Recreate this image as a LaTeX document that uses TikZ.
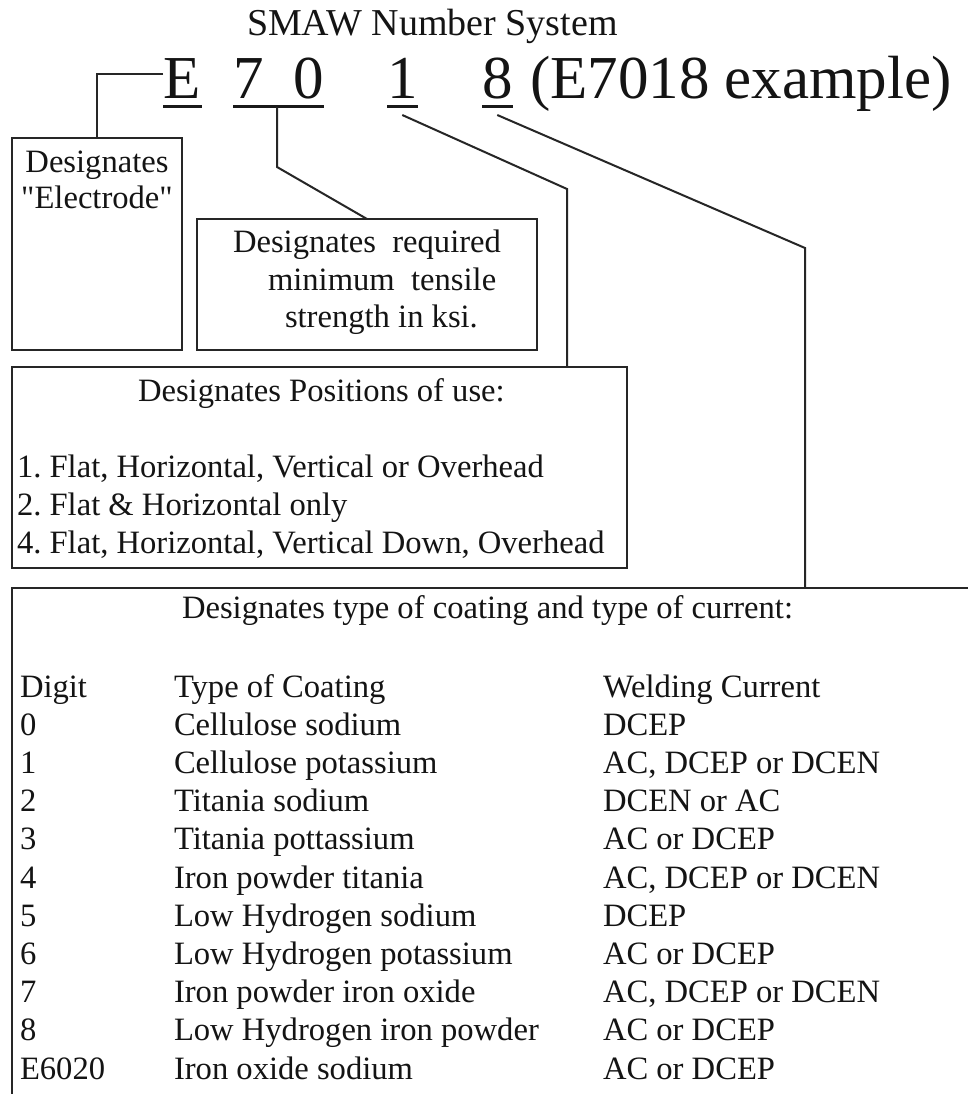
\documentclass[tikz,border=0pt]{standalone}
\usepackage{fontspec}
\setmainfont{Liberation Serif}
\newfontfamily\plainserif{Liberation Serif}[Ligatures=ResetAll]
\newcommand{\sq}{{\plainserif\char34}}
\frenchspacing
\begin{document}
\begin{tikzpicture}[x=1pt,y=-1pt,
  txt/.style={inner sep=0pt, outer sep=0pt, anchor=base west, text=black!92,
              font=\fontsize{32.6}{38}\selectfont\frenchspacing},
  ctxt/.style={txt, anchor=base},
  bigtxt/.style={txt, font=\fontsize{61}{61}\selectfont},
  box/.style={draw=black!85, line width=2.2pt, inner sep=0pt, outer sep=0pt, anchor=north west},
  conn/.style={draw=black!85, line width=2pt},
  uline/.style={draw=black!90, line width=3pt}]
\useasboundingbox (0,0) rectangle (968,1094);
\fill[white] (0,0) rectangle (968,1094);

% title
\node[txt, font=\fontsize{38}{40}\selectfont] (title) at (247,36) {SMAW Number System};

% big code characters
\node[bigtxt] (bE) at (163,99) {E};
\node[bigtxt] (b7) at (233,99) {7};
\node[bigtxt] (b0) at (293,99) {0};
\node[bigtxt] (b1) at (387,99) {1};
\node[bigtxt] (b8) at (482,99) {8};
\node[bigtxt] (bex) at (530,99) {(E7018 example)};

% underlines
\draw[uline] ([yshift=-8pt]bE.base west) -- ([yshift=-8pt,xshift=2pt]bE.base east);
\draw[uline] ([yshift=-8pt]b7.base west) -- ([yshift=-8pt]b0.base east);
\draw[uline] ([yshift=-8pt]b1.base west) -- ([yshift=-8pt]b1.base east);
\draw[uline] ([yshift=-8pt]b8.base west) -- ([yshift=-8pt]b8.base east);

% boxes
\node[box, minimum width=170pt, minimum height=212pt] (elec) at (12,138) {};
\node[box, minimum width=340pt, minimum height=131pt] (tens) at (197,219) {};
\node[box, minimum width=615pt, minimum height=201pt] (pos) at (12,367) {};
\coordinate (coatTL) at (12,588);
\coordinate (coatBL) at (12,1110);
\coordinate (coatTR) at (985,588);
\draw[box] (coatBL) -- (coatTL) -- (coatTR);

% connectors
\draw[conn] ([yshift=25pt]bE.base west) -| (elec.north);
\coordinate (u70) at (277,107);
\coordinate (k70) at (277,167);
\draw[conn] (u70) -- (k70) -- (tens.north);
\coordinate (k1) at (567,189);
\draw[conn] ([yshift=-16pt]b1.base) -- (k1) -- (k1 |- pos.north);
\coordinate (k8) at (805,248);
\draw[conn] ([yshift=-16pt]b8.base) -- (k8) -- (k8 |- coatTL);

% electrode box text
\node[ctxt] (e1) at (97,172) {Designates};
\node[ctxt] (e2) at (97,208) {\sq Electrode\sq};

% tensile box text
\node[txt] (t1) at (233,252) {Designates\ \ required};
\node[txt] (t2) at (268,290) {minimum\ \ tensile};
\node[txt] (t3) at (285,327) {strength in ksi.};

% positions box text
\node[txt] (ptitle) at (138,401) {Designates Positions of use:};
\node[txt] (p1) at (17,477) {1. Flat, Horizontal, Vertical or Overhead};
\node[txt] (p2) at (17,515) {2. Flat \& Horizontal only};
\node[txt] (p3) at (17,553) {4. Flat, Horizontal, Vertical Down, Overhead};

% coating box text
\node[txt] (ctitle) at (182,618) {Designates type of coating and type of current:};
\foreach \i/\d/\t/\w in {
  0/Digit/{Type of Coating}/{Welding Current},
  1/0/{Cellulose sodium}/{DCEP},
  2/1/{Cellulose potassium}/{AC, DCEP or DCEN},
  3/2/{Titania sodium}/{DCEN or AC},
  4/3/{Titania pottassium}/{AC or DCEP},
  5/4/{Iron powder titania}/{AC, DCEP or DCEN},
  6/5/{Low Hydrogen sodium}/{DCEP},
  7/6/{Low Hydrogen potassium}/{AC or DCEP},
  8/7/{Iron powder iron oxide}/{AC, DCEP or DCEN},
  9/8/{Low Hydrogen iron powder}/{AC or DCEP},
  10/E6020/{Iron oxide sodium}/{AC or DCEP}}{
  \node[txt] (dig\i) at (20,697+38.2*\i) {\d};
  \node[txt] (typ\i) at (174,697+38.2*\i) {\t};
  \node[txt] (cur\i) at (603,697+38.2*\i) {\w};
}
\end{tikzpicture}
\end{document}
